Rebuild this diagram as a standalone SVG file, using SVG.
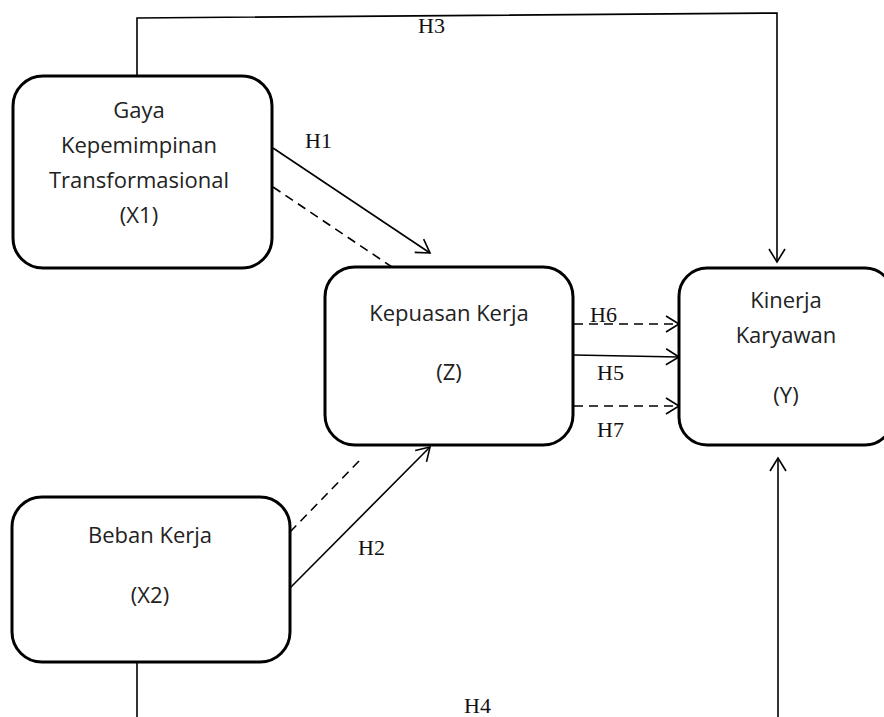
<svg xmlns="http://www.w3.org/2000/svg" width="884" height="717" viewBox="0 0 884 717">
<style>
.box{fill:#fff;stroke:#000;stroke-width:3}
.t{font-family:"Open Sans","Noto Sans",sans-serif;font-size:22px;fill:#222;text-anchor:middle}
.h{font-family:"Liberation Serif","Times New Roman",serif;font-size:22px;fill:#111}
.c{fill:none;stroke:#000;stroke-width:1.6}
.d{stroke-dasharray:9 6}
</style>
<defs>
<marker id="a" markerUnits="userSpaceOnUse" markerWidth="20" markerHeight="20" viewBox="-2 -10 18 20" refX="13" refY="0" orient="auto">
<path d="M0,-8 L13,0 L0,8" fill="none" stroke="#000" stroke-width="1.6"/>
</marker>
</defs>
<g id="connectors">
<polyline class="c" points="137,76 137,18 777,13 777,262" marker-end="url(#a)"/>
<line class="c" x1="273" y1="148" x2="430" y2="253" marker-end="url(#a)"/>
<line class="c d" x1="273" y1="187" x2="392" y2="267"/>
<line class="c" x1="290" y1="588" x2="430" y2="447" marker-end="url(#a)"/>
<line class="c d" x1="290" y1="532" x2="360" y2="460"/>
<line class="c d" x1="574" y1="324" x2="679" y2="324" marker-end="url(#a)"/>
<line class="c" x1="574" y1="355" x2="679" y2="357" marker-end="url(#a)"/>
<line class="c d" x1="574" y1="406" x2="679" y2="406" marker-end="url(#a)"/>
<line class="c" x1="137" y1="662" x2="137" y2="717"/>
<line class="c" x1="778" y1="717" x2="778" y2="458" marker-end="url(#a)"/>
<text class="h" x="418" y="33">H3</text>
<text class="h" x="305" y="148">H1</text>
<text class="h" x="358" y="555">H2</text>
<text class="h" x="590" y="322">H6</text>
<text class="h" x="597" y="380">H5</text>
<text class="h" x="597" y="437">H7</text>
<text class="h" x="464" y="713">H4</text>
</g>
<g id="X1">
<rect class="box" x="13" y="76" width="259" height="192" rx="30"/>
<text class="t" x="139" y="118">Gaya</text>
<text class="t" x="139" y="153">Kepemimpinan</text>
<text class="t" x="139" y="188">Transformasional</text>
<text class="t" x="139" y="223">(X1)</text>
</g>
<g id="Z">
<rect class="box" x="325" y="267" width="248" height="178" rx="30"/>
<text class="t" x="449" y="321">Kepuasan Kerja</text>
<text class="t" x="449" y="380">(Z)</text>
</g>
<g id="Y">
<rect class="box" x="679" y="268" width="214" height="177" rx="28"/>
<text class="t" x="786" y="308">Kinerja</text>
<text class="t" x="786" y="343">Karyawan</text>
<text class="t" x="786" y="403">(Y)</text>
</g>
<g id="X2">
<rect class="box" x="12" y="497" width="278" height="165" rx="30"/>
<text class="t" x="150" y="543">Beban Kerja</text>
<text class="t" x="150" y="603">(X2)</text>
</g>
</svg>
